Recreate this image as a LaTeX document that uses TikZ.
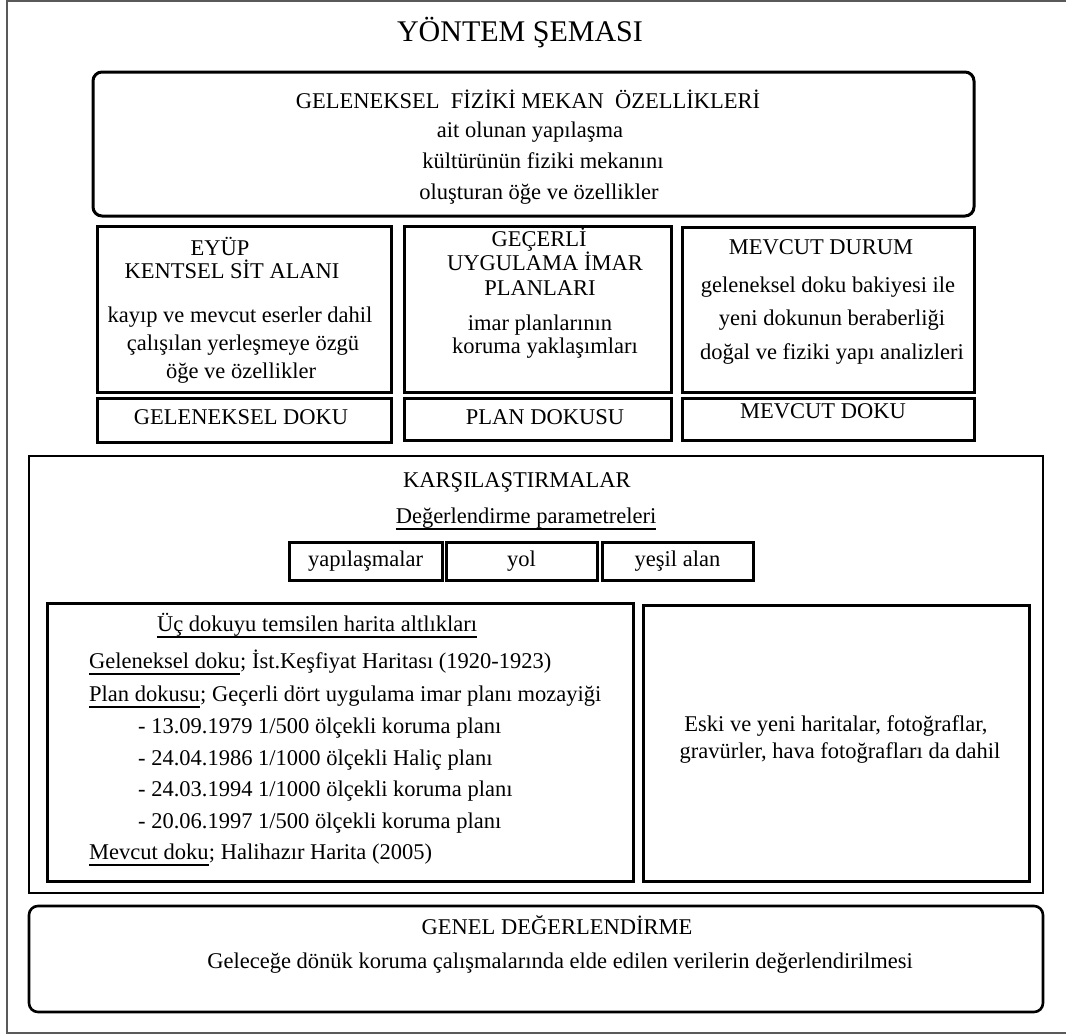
\documentclass[tikz,border=0pt]{standalone}
\usepackage{fontspec}
\setmainfont{Liberation Serif}

\begin{document}
\begin{tikzpicture}[x=1pt,y=-1pt,
    box/.style={draw,line width=3pt,inner sep=0pt},
    rbox/.style={box,rounded corners=9pt},
    txt/.style={inner sep=0pt,anchor=base,font=\fontsize{22.5}{27}\selectfont},
    ltxt/.style={txt,anchor=base west},
    uline/.style={line width=2.4pt}]
  \useasboundingbox (0,0) rectangle (1066,1034);
  \draw[black!65,line width=1.5pt] (1070,0.75) -- (7,0.75) -- (7,1033) -- (1070,1033);
  \node[txt,font=\fontsize{30}{36}\selectfont] (title) at (520,41) {YÖNTEM ŞEMASI};

  \node[rbox,minimum width=881pt,minimum height=144pt] (mekan) at (533.5,144) {};
  \foreach \x/\y/\t [count=\i] in {528/108/{GELENEKSEL\ \ FİZİKİ MEKAN\ \ ÖZELLİKLERİ},530/137/{ait olunan yapılaşma},
      543/168/{kültürünün fiziki mekanını},539/199/{oluşturan öğe ve özellikler}}
    \node[txt] (mekan-\i) at (\x,\y) {\t};

  \node[box,minimum width=294pt,minimum height=166pt] (eyup) at (244,309) {};
  \node[box,minimum width=267pt,minimum height=166pt] (imar) at (537.5,309) {};
  \node[box,minimum width=292pt,minimum height=165pt] (durum) at (828,309.5) {};
  \node[box,minimum width=294pt,minimum height=44pt] (geldoku) at (244,420) {};
  \node[box,minimum width=267pt,minimum height=42pt] (plandoku) at (537.5,419) {};
  \node[box,minimum width=292pt,minimum height=42pt] (mevdoku) at (828,419) {};
  \foreach \x/\y/\t [count=\i] in {220/255/{EYÜP},232/278/{KENTSEL SİT ALANI},240/322/{kayıp ve mevcut eserler dahil},
      243/350/{çalışılan yerleşmeye özgü},241/378/{öğe ve özellikler}}
    \node[txt] (eyup-\i) at (\x,\y) {\t};
  \foreach \x/\y/\t [count=\i] in {539/246/{GEÇERLİ},545/270/{UYGULAMA İMAR},540/295/{PLANLARI},
      540/330/{imar planlarının},545/353/{koruma yaklaşımları}}
    \node[txt] (imar-\i) at (\x,\y) {\t};
  \foreach \x/\y/\t [count=\i] in {821/254/{MEVCUT DURUM},828/292/{geleneksel doku bakiyesi ile},
      832/325/{yeni dokunun beraberliği},832/359/{doğal ve fiziki yapı analizleri}}
    \node[txt] (durum-\i) at (\x,\y) {\t};
  \node[txt] (geldoku-t) at (241,424) {GELENEKSEL DOKU};
  \node[txt] (plandoku-t) at (545,424) {PLAN DOKUSU};
  \node[txt] (mevdoku-t) at (823,418) {MEVCUT DOKU};

  \node[box,line width=2.6pt,minimum width=1014pt,minimum height=437pt] (kars) at (536,674.5) {};
  \node[txt] (kars-t) at (517,487) {KARŞILAŞTIRMALAR};
  \node[txt] (param) at (526,523) {Değerlendirme parametreleri};
  \foreach \x/\w/\t [count=\i] in {365.5/153/{yapılaşmalar},521.5/151/{yol},677.5/151/{yeşil alan}}
    \node[box,minimum width=\w pt,minimum height=38pt,text height=10pt,text depth=0pt,
      font=\fontsize{22.5}{27}\selectfont] (param-\i) at (\x,561) {\t};

  \node[box,minimum width=586pt,minimum height=278pt] (harita) at (340,742) {};
  \node[box,minimum width=386pt,minimum height=276pt] (belge) at (836,743) {};
  \node[txt] (altlik) at (317,631) {Üç dokuyu temsilen harita altlıkları};
  \node[ltxt] (gel) at (89,668) {Geleneksel doku};
  \node[ltxt] (gel-r) at (gel.base east) {; İst.Keşfiyat Haritası (1920-1923)};
  \node[ltxt] (plan) at (89,701) {Plan dokusu};
  \node[ltxt] (plan-r) at (plan.base east) {; Geçerli dört uygulama imar planı mozayiği};
  \foreach \y/\t [count=\i] in {733/{- 13.09.1979 1/500 ölçekli koruma planı},765/{- 24.04.1986 1/1000 ölçekli Haliç planı},
      796/{- 24.03.1994 1/1000 ölçekli koruma planı},828/{- 20.06.1997 1/500 ölçekli koruma planı}}
    \node[ltxt] (plan-\i) at (138,\y) {\t};
  \node[ltxt] (mev) at (89,859) {Mevcut doku};
  \node[ltxt] (mev-r) at (mev.base east) {; Halihazır Harita (2005)};
  \foreach \n in {param,altlik,gel,plan,mev}
    \draw[uline] ([yshift=-6pt]\n.base west) -- ([yshift=-6pt]\n.base east);
  \node[txt] (belge-1) at (836,731) {Eski ve yeni haritalar, fotoğraflar,};
  \node[txt] (belge-2) at (840,758) {gravürler, hava fotoğrafları da dahil};

  \node[rbox,line width=2.6pt,minimum width=1014pt,minimum height=106pt] (genel) at (536,959) {};
  \node[txt] (genel-1) at (557,934) {GENEL DEĞERLENDİRME};
  \node[txt] (genel-2) at (560,968) {Geleceğe dönük koruma çalışmalarında elde edilen verilerin değerlendirilmesi};
\end{tikzpicture}
\end{document}
